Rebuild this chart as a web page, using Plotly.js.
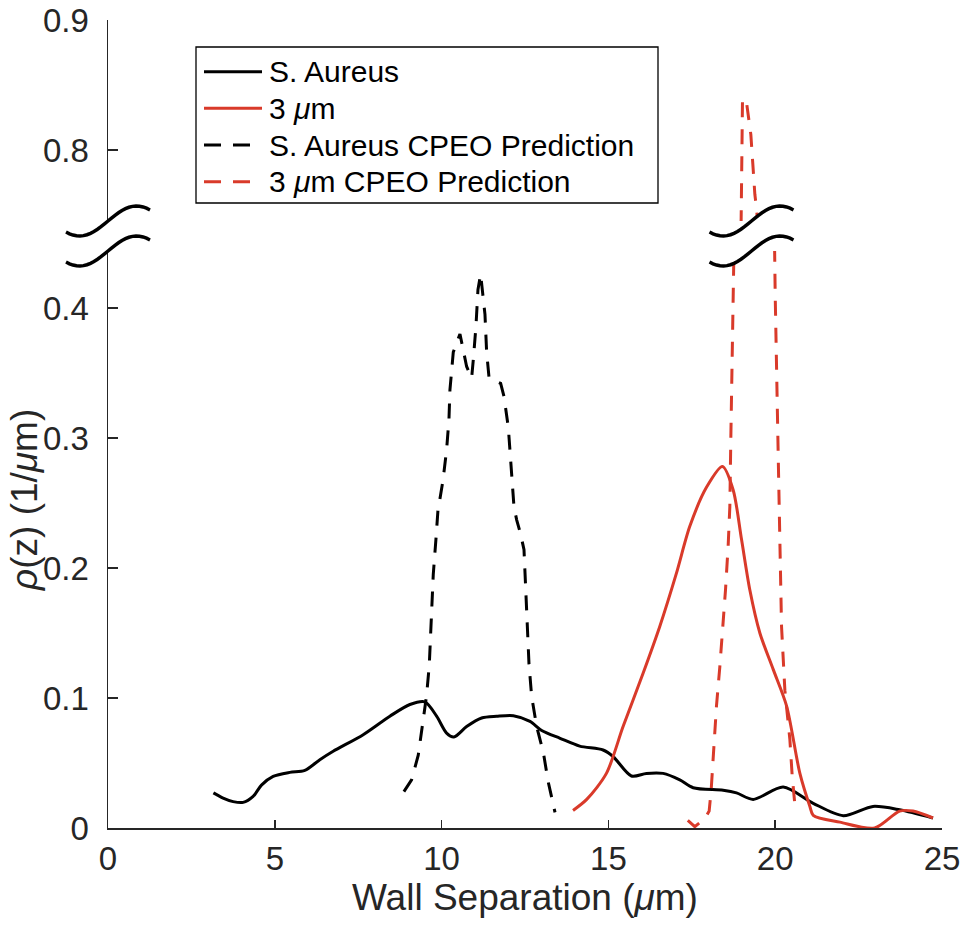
<!DOCTYPE html>
<html>
<head>
<meta charset="utf-8">
<script src="https://cdn.plot.ly/plotly-3.0.1.min.js"></script>
<style>html,body{margin:0;padding:0;background:#fff;}#chart{width:964px;height:928px;}</style>
</head>
<body>
<div id="chart"></div>
<script>
// ---- Data ----
const sAureusX = [3.16, 3.45, 3.75, 4.05, 4.35, 4.6, 4.95, 5.45, 5.9, 6.35, 6.75, 7.65, 8.45, 9.05, 9.5, 9.85, 10.15, 10.37, 10.75, 11.2, 11.65, 12.15, 12.65, 13.0, 13.55, 14.14, 14.84, 15.14, 15.69, 16.14, 16.64, 17.14, 17.54, 18.44, 18.84, 19.34, 20.24, 21.14, 22.04, 22.93, 23.73, 24.73];
const sAureusY = [0.027, 0.023, 0.0203, 0.0197, 0.0243, 0.033, 0.0397, 0.0428, 0.0443, 0.0525, 0.059, 0.0718, 0.086, 0.095, 0.097, 0.086, 0.073, 0.070, 0.078, 0.0846, 0.0859, 0.0864, 0.082, 0.075, 0.069, 0.063, 0.060, 0.055, 0.040, 0.042, 0.042, 0.037, 0.031, 0.029, 0.027, 0.022, 0.0315, 0.019, 0.0095, 0.0166, 0.014, 0.0077];

const um3X = [13.94, 14.35, 14.94, 15.44, 16.04, 16.54, 17.04, 17.44, 17.94, 18.42, 18.74, 18.99, 19.24, 19.54, 19.94, 20.34, 20.74, 21.04, 21.14, 21.94, 22.98, 23.73, 24.13, 24.73];
const um3Y = [0.0135, 0.022, 0.042, 0.078, 0.119, 0.155, 0.196, 0.232, 0.262, 0.278, 0.26, 0.222, 0.183, 0.15, 0.122, 0.094, 0.042, 0.0166, 0.0098, 0.0045, 0.0, 0.013, 0.013, 0.0077];

const sAureusPredX = [8.87, 9.10, 9.30, 9.43, 9.55, 9.63, 9.67, 9.72, 9.75, 9.83, 9.89, 10.04, 10.15, 10.22, 10.25, 10.35, 10.55, 10.75, 10.9, 10.95, 11.03, 11.09, 11.17, 11.3, 11.35, 11.42, 11.5, 11.77, 11.87, 12.0, 12.1, 12.17, 12.25, 12.37, 12.47, 12.55, 12.62, 12.7, 12.85, 13.05, 13.2, 13.4];
const sAureusPredY = [0.028, 0.037, 0.056, 0.078, 0.102, 0.125, 0.15, 0.172, 0.195, 0.222, 0.244, 0.267, 0.291, 0.314, 0.337, 0.366, 0.38, 0.355, 0.346, 0.36, 0.386, 0.414, 0.426, 0.395, 0.366, 0.347, 0.345, 0.342, 0.332, 0.308, 0.272, 0.247, 0.237, 0.226, 0.214, 0.171, 0.126, 0.101, 0.078, 0.058, 0.035, 0.012];

const um3PredX = [17.38, 17.59, 17.89, 18.02, 18.08, 18.13, 18.17, 18.24, 18.34, 18.44, 18.51, 18.59, 18.64, 18.67, 18.73, 18.76, 18.98, 19.02, 19.15, 19.27, 19.33, 19.39, 19.45, 19.98, 20.0, 20.09, 20.14, 20.19, 20.29, 20.44, 20.51, 20.6];
const um3PredY = [0.0058, 0.001, 0.0072, 0.013, 0.029, 0.049, 0.068, 0.094, 0.124, 0.155, 0.183, 0.217, 0.247, 0.30, 0.418, 0.45, 0.748, 0.840, 0.835, 0.812, 0.789, 0.766, 0.753, 0.45, 0.41, 0.287, 0.222, 0.155, 0.106, 0.068, 0.04, 0.015];

const seriesNames = ['S. Aureus', '3 <i>μ</i>m', 'S. Aureus CPEO Prediction', '3 <i>μ</i>m CPEO Prediction'];
const xTickVals = [0, 5, 10, 15, 20, 25];
const yTickLower = [0, 0.1, 0.2, 0.3, 0.4];
const yTickLowerText = ['0', '0.1', '0.2', '0.3', '0.4'];
const yTickUpper = [0.8, 0.9];
const yTickUpperText = ['0.8', '0.9'];
const lowerRange = [0, 0.4438];
const upperRange = [0.7454, 0.9004];

// ---- Layout geometry (pixels) ----
const W = 964, H = 928;
const mL = 108, mR = 22, mT = 20, mB = 100;
const pw = W - mL - mR, ph = H - mT - mB;
const lowerTopPx = 251, upperBotPx = 221;
const fx = px => (px - mL) / pw;
const fy = py => (H - mB - py) / ph;

const RED = '#D93A2A';
const AX = '#262626';
const FONT = '"Liberation Sans", Arial, Helvetica, sans-serif';
const DASH = '15px,12px';
const seriesColors = ['#000000', RED, '#000000', RED];
const seriesDash = ['solid', 'solid', '17px,12px', '17px,12px'];

const traces = [
  {x: sAureusX, y: sAureusY, name: seriesNames[0], type: 'scatter', mode: 'lines', showlegend: false,
   line: {color: seriesColors[0], width: 3, shape: 'spline', smoothing: 0.8}, xaxis: 'x', yaxis: 'y'},
  {x: um3X, y: um3Y, name: seriesNames[1], type: 'scatter', mode: 'lines', showlegend: false,
   line: {color: seriesColors[1], width: 3, shape: 'spline', smoothing: 0.8}, xaxis: 'x', yaxis: 'y'},
  {x: sAureusPredX, y: sAureusPredY, name: seriesNames[2], type: 'scatter', mode: 'lines', showlegend: false,
   line: {color: seriesColors[2], width: 3, dash: DASH}, xaxis: 'x', yaxis: 'y'},
  {x: um3PredX, y: um3PredY, name: seriesNames[3], type: 'scatter', mode: 'lines', showlegend: false,
   line: {color: seriesColors[3], width: 3, dash: DASH}, xaxis: 'x', yaxis: 'y'},
  {x: um3PredX, y: um3PredY, name: seriesNames[3], type: 'scatter', mode: 'lines', showlegend: false,
   line: {color: seriesColors[3], width: 3, dash: DASH}, xaxis: 'x', yaxis: 'y2'}
];

// ---- Axis-break marks (wavy lines with white fill) ----
function wavePts(cxPx, cyPx) {
  const pts = [];
  for (let i = 0; i <= 24; i++) {
    const dx = -42 + 84 * i / 24;
    pts.push([cxPx + dx, cyPx - 15 * Math.sin(Math.PI * dx / 57)]);
  }
  return pts;
}
const toPath = pts => pts.map((p, i) => (i ? 'L' : 'M') + fx(p[0]).toFixed(5) + ',' + fy(p[1]).toFixed(5)).join(' ');
function breakShapes(cxPx) {
  const up = wavePts(cxPx, upperBotPx);
  const lo = wavePts(cxPx, lowerTopPx);
  const fillPts = up.concat(lo.slice().reverse());
  return [
    {type: 'path', xref: 'paper', yref: 'paper', path: toPath(fillPts) + ' Z', fillcolor: '#ffffff', line: {width: 0}, layer: 'above'},
    {type: 'path', xref: 'paper', yref: 'paper', path: toPath(up), line: {color: '#000000', width: 3.5}, layer: 'above'},
    {type: 'path', xref: 'paper', yref: 'paper', path: toPath(lo), line: {color: '#000000', width: 3.5}, layer: 'above'}
  ];
}
let shapes = breakShapes(108).concat(breakShapes(751.5));

// ---- Legend box (MATLAB style) ----
const legL = 196, legT = 47, legR = 658, legB = 203;
const rowY = [71.7, 108.3, 145, 181.7];
const annotations = [];
shapes.push({type: 'rect', xref: 'paper', yref: 'paper', x0: fx(legL), x1: fx(legR), y0: fy(legB), y1: fy(legT),
  fillcolor: '#ffffff', line: {color: '#000000', width: 1.3}, layer: 'above'});
seriesNames.forEach((nm, i) => {
  shapes.push({type: 'line', xref: 'paper', yref: 'paper', x0: fx(204), x1: fx(262), y0: fy(rowY[i]), y1: fy(rowY[i]),
    line: {color: seriesColors[i], width: 3, dash: seriesDash[i]}, layer: 'above'});
  annotations.push({text: nm, xref: 'paper', yref: 'paper', x: fx(267), y: fy(rowY[i]),
    xanchor: 'left', yanchor: 'middle', showarrow: false,
    font: {family: FONT, size: 30, color: '#000000'}});
});
annotations.push({
  text: '<i>ρ</i>(z) (1/<i>μ</i>m)', xref: 'paper', yref: 'paper',
  x: fx(24), y: fy(500), xanchor: 'center', yanchor: 'middle',
  textangle: -90, showarrow: false,
  font: {family: FONT, size: 37, color: AX}
});

const layout = {
  width: W, height: H,
  margin: {l: mL, r: mR, t: mT, b: mB, pad: 0},
  paper_bgcolor: '#ffffff', plot_bgcolor: 'rgba(0,0,0,0)',
  font: {family: FONT, color: AX, size: 33},
  showlegend: false,
  xaxis: {
    range: [0, 25], tickvals: xTickVals, ticktext: xTickVals.map(String),
    ticks: 'inside', ticklen: 8, tickwidth: 1.5, tickcolor: AX,
    showline: true, linecolor: AX, linewidth: 1.5, mirror: false,
    showgrid: false, zeroline: false, anchor: 'y',
    ticklabelstandoff: 1, ticklabeloverflow: 'allow',
    tickfont: {family: FONT, size: 33, color: AX},
    title: {text: 'Wall Separation (<i>μ</i>m)', font: {family: FONT, size: 37, color: AX}, standoff: 6},
    automargin: false
  },
  yaxis: {
    domain: [0, fy(lowerTopPx)], range: lowerRange,
    tickvals: yTickLower, ticktext: yTickLowerText,
    ticks: 'inside', ticklen: 10, tickwidth: 1.5, tickcolor: AX,
    showline: true, linecolor: AX, linewidth: 1.5, mirror: false,
    showgrid: false, zeroline: false, anchor: 'x',
    ticklabelstandoff: 11, ticklabeloverflow: 'allow',
    tickfont: {family: FONT, size: 33, color: AX}, automargin: false
  },
  yaxis2: {
    domain: [fy(upperBotPx), 1], range: upperRange,
    tickvals: yTickUpper, ticktext: yTickUpperText,
    ticks: 'inside', ticklen: 10, tickwidth: 1.5, tickcolor: AX,
    showline: true, linecolor: AX, linewidth: 1.5, mirror: false,
    showgrid: false, zeroline: false, anchor: 'x',
    ticklabelstandoff: 11, ticklabeloverflow: 'allow',
    tickfont: {family: FONT, size: 33, color: AX}, automargin: false
  },
  shapes: shapes,
  annotations: annotations
};

Plotly.newPlot('chart', traces, layout, {displayModeBar: false, staticPlot: true});
</script>
</body>
</html>
